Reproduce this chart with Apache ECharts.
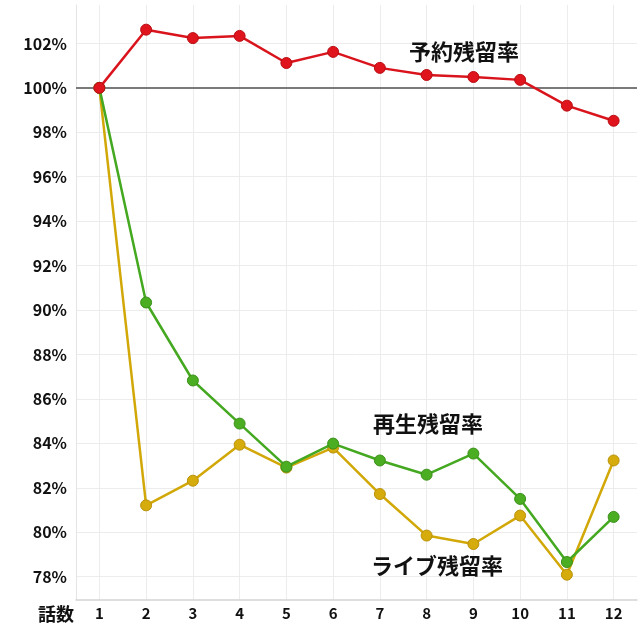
<!DOCTYPE html>
<html>
<head>
<meta charset="utf-8">
<script src="https://cdn.jsdelivr.net/npm/echarts@6/dist/echarts.min.js"></script>
<style>
  html, body { margin: 0; padding: 0; background: #fff; }
  #chart { width: 640px; height: 640px; }
</style>
</head>
<body>
<div id="chart"></div>
<script>
// 話数
var episodes = [1, 2, 3, 4, 5, 6, 7, 8, 9, 10, 11, 12];
var yTicks = [78, 80, 82, 84, 86, 88, 90, 92, 94, 96, 98, 100, 102];

// 予約残留率
var reserveRate = [100, 102.62, 102.24, 102.34, 101.12, 101.62, 100.9, 100.58, 100.49, 100.36, 99.2, 98.52];
// 再生残留率
var playRate = [100, 90.34, 86.83, 84.89, 82.95, 83.99, 83.23, 82.59, 83.54, 81.5, 78.66, 80.69];
// ライブ残留率
var liveRate = [100, 81.21, 82.32, 83.94, 82.91, 83.81, 81.72, 79.85, 79.47, 80.75, 78.09, 83.23];

var font = '"Noto Sans CJK JP", sans-serif';

function pairs(vals) {
  return vals.map(function (v, i) { return [episodes[i], v]; });
}

function lineSeries(name, vals, lineColor, dotColor, borderColor, z) {
  return {
    name: name,
    type: 'line',
    data: pairs(vals),
    symbol: 'circle',
    symbolSize: 11,
    lineStyle: { color: lineColor, width: 2.5 },
    itemStyle: { color: dotColor, borderColor: borderColor, borderWidth: 1 },
    z: z
  };
}

var myChart = echarts.init(document.getElementById('chart'));

var reserve = lineSeries('予約残留率', reserveRate, '#d9141c', '#e0141c', '#b80e14', 5);
reserve.markLine = {
  silent: true,
  symbol: 'none',
  label: { show: false },
  lineStyle: { color: '#7a7a7a', width: 2, type: 'solid' },
  data: [{ yAxis: 100 }]
};

var option = {
  animation: false,
  textStyle: { fontFamily: font },
  grid: { left: 76, right: 3, top: 5, bottom: 40 },
  xAxis: {
    type: 'value',
    min: 0.5,
    max: 12.5,
    axisLine: { show: true, lineStyle: { color: '#d4d4d4', width: 1.5 } },
    axisTick: { show: false, customValues: episodes },
    axisLabel: {
      customValues: episodes,
      color: '#111',
      fontSize: 15,
      fontWeight: 'bold',
      fontFamily: font,
      margin: 6
    },
    splitLine: { show: true, lineStyle: { color: '#ececec' } }
  },
  yAxis: {
    type: 'value',
    min: 76.95,
    max: 103.73,
    axisLine: { show: true, lineStyle: { color: '#e4e4e4' } },
    axisTick: { show: false, customValues: yTicks },
    axisLabel: {
      customValues: yTicks,
      formatter: '{value}%',
      color: '#111',
      fontSize: 16,
      fontWeight: 'bold',
      fontFamily: font,
      margin: 9
    },
    splitLine: { show: true, lineStyle: { color: '#ececec' } }
  },
  series: [
    lineSeries('ライブ残留率', liveRate, '#d2a808', '#d6ab0c', '#b8900a', 3),
    lineSeries('再生残留率', playRate, '#44a820', '#4aad22', '#3a8f18', 4),
    reserve
  ],
  graphic: [
    { type: 'text', left: 409, top: 41, z: 10, style: { text: '予約残留率', font: 'bold 22px ' + font, fill: '#111' } },
    { type: 'text', left: 373, top: 413, z: 10, style: { text: '再生残留率', font: 'bold 22px ' + font, fill: '#111' } },
    { type: 'text', left: 371, top: 555, z: 10, style: { text: 'ライブ残留率', font: 'bold 22px ' + font, fill: '#111' } },
    { type: 'text', left: 38, top: 605, z: 10, style: { text: '話数', font: 'bold 18px ' + font, fill: '#111' } }
  ]
};
myChart.setOption(option);
</script>
</body>
</html>
